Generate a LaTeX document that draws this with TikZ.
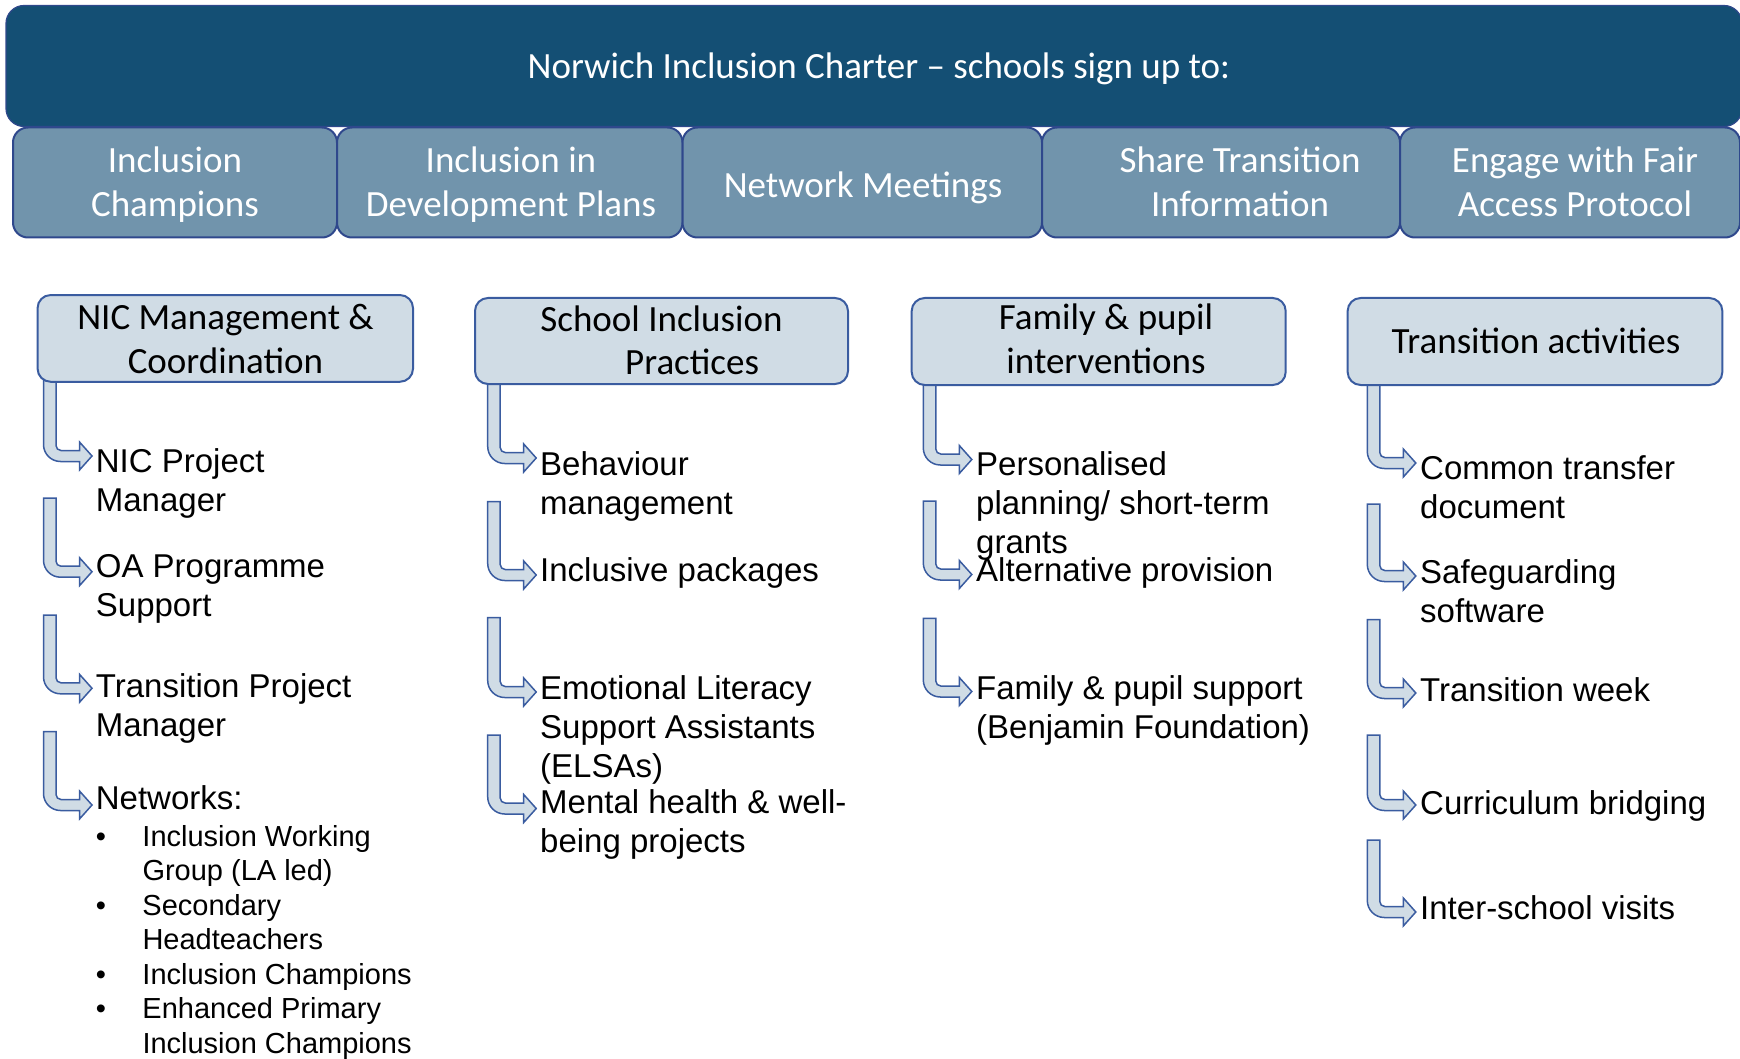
\documentclass[tikz,border=0pt]{standalone}
\usepackage{fontspec}
\setmainfont{Liberation Sans}
\newfontfamily\calfont{Carlito}

\definecolor{banner}{RGB}{20,79,116}
\definecolor{tabfill}{RGB}{113,148,172}
\definecolor{tabline}{RGB}{47,72,140}
\definecolor{headfill}{RGB}{208,220,229}
\definecolor{headline}{RGB}{58,92,160}

% stacked lines: left-aligned / centred, baseline at the first line
\newcommand\lstack[1]{\begin{tabular}[t]{@{}l@{}}#1\end{tabular}}
\newcommand\cstack[1]{\begin{tabular}[t]{@{}c@{}}#1\end{tabular}}

% bent block arrow: #1 = left edge of the stem, #2 = top of the stem, #3 = height of the tip
\newcommand\bentarrow[3]{%
  \path[arrowbody] (#1,#2) -- (#1,#3+5.5-17)
    .. controls (#1,#3+5.5-7.6) and (#1+7.6,#3+5.5) .. (#1+17,#3+5.5)
    -- (#1+36,#3+5.5) -- (#1+36,#3+14) -- (#1+48.5,#3) -- (#1+36,#3-14)
    -- (#1+36,#3-5.5) -- (#1+17.5,#3-5.5)
    .. controls (#1+14.7,#3-5.5) and (#1+12.5,#3-7.7) .. (#1+12.5,#3-10.5)
    -- (#1+12.5,#2) -- cycle;}

\begin{document}
\begin{tikzpicture}[x=1pt,y=-1pt,
  bannerbox/.style={draw=tabline, line width=1.2pt, fill=banner, rounded corners=18pt},
  tabbox/.style={draw=tabline, line width=2pt, fill=tabfill, rounded corners=15pt},
  headbox/.style={draw=headline, line width=2pt, fill=headfill, rounded corners=13pt},
  bigtext/.style={font=\calfont\fontsize{37}{44}\selectfont, inner sep=0pt, anchor=base},
  itemtext/.style={font=\fontsize{33}{39}\selectfont, inner sep=0pt, anchor=base west},
  bullettext/.style={font=\fontsize{29}{34.5}\selectfont, inner sep=0pt, anchor=base west},
  arrowbody/.style={draw=headline, line width=1.5pt, fill=headfill, line join=miter},
]
\useasboundingbox (0,0) rectangle (1740,1059);
\clip (0,0) rectangle (1740,1059);

% charter banner
\node[bannerbox, minimum width=1736pt, minimum height=121pt] (banner) at (874,66) {};
\node[bigtext, text=white] (title) at (879,79) {Norwich Inclusion Charter – schools sign up to:};

% commitments row
\node[tabbox, minimum width=324pt, minimum height=110pt] (c1) at (175,182.5) {};
\node[tabbox, minimum width=345.5pt, minimum height=110pt] (c2) at (509.75,182.5) {};
\node[tabbox, minimum width=359.5pt, minimum height=110pt] (c3) at (862.25,182.5) {};
\node[tabbox, minimum width=358pt, minimum height=110pt] (c4) at (1221,182.5) {};
\node[tabbox, minimum width=340pt, minimum height=110pt] (c5) at (1570,182.5) {};

\node[bigtext, text=white] (c1t) at (175,172.5) {\cstack{Inclusion\\Champions}};
\node[bigtext, text=white] (c2t) at (511,172.5) {\cstack{Inclusion in\\Development Plans}};
\node[bigtext, text=white] (c3t) at (863,197.5) {Network Meetings};
\node[bigtext, text=white] (c4t) at (1240,172.5) {\cstack{Share Transition\\Information}};
\node[bigtext, text=white] (c5t) at (1575,172.5) {\cstack{Engage with Fair\\Access Protocol}};

% block arrows (drawn before the headings so the heading border covers the stem top)
\bentarrow{43.5}{380}{456}
\bentarrow{43.5}{498}{571.7}
\bentarrow{43.5}{615}{688.3}
\bentarrow{43.5}{731.7}{805}

\bentarrow{487.7}{382}{458}
\bentarrow{487.7}{501.7}{575}
\bentarrow{487.7}{617.7}{692}
\bentarrow{487.7}{735}{808.5}

\bentarrow{923.3}{383}{459.5}
\bentarrow{923.3}{501}{574.5}
\bentarrow{923.3}{618.3}{691.5}

\bentarrow{1367.3}{383}{463}
\bentarrow{1367.3}{504}{576}
\bentarrow{1367.3}{619.5}{693}
\bentarrow{1367.3}{735}{805}
\bentarrow{1367.3}{840}{912}

% headings
\node[headbox, minimum width=375.4pt, minimum height=86.7pt] (h1) at (225.3,338.4) {};
\node[headbox, minimum width=373pt, minimum height=86pt] (h2) at (661.5,341) {};
\node[headbox, minimum width=374pt, minimum height=87pt] (h3) at (1098.7,341.5) {};
\node[headbox, minimum width=374.7pt, minimum height=87pt] (h4) at (1535,341.5) {};

\node[bigtext] (h1t) at (225.5,329.3) {\cstack{NIC Management \&\\Coordination}};
\node[bigtext] (h2a) at (661.5,331.7) {School Inclusion};
\node[bigtext, anchor=base west] (h2b) at (625,374.3) {Practices};
\node[bigtext] (h3t) at (1106,329.8) {\cstack{Family \& pupil\\interventions}};
\node[bigtext] (h4t) at (1536,353.5) {Transition activities};

% management & coordination
\node[itemtext] (i11) at (95.7,472.7) {\lstack{NIC Project\\Manager}};
\node[itemtext] (i12) at (95.7,577.5) {\lstack{OA Programme\\Support}};
\node[itemtext] (i13) at (95.7,697) {\lstack{Transition Project\\Manager}};
\node[itemtext] (i14) at (95.7,809.3) {Networks:};
\node[bullettext] (i14b) at (95.7,846) {\begin{tabular}[t]{@{}l@{}l@{}}
  \makebox[46.6pt][l]{\textbullet} & Inclusion Working\\
   & Group (LA led)\\
  \makebox[46.6pt][l]{\textbullet} & Secondary\\
   & Headteachers\\
  \makebox[46.6pt][l]{\textbullet} & Inclusion Champions\\
  \makebox[46.6pt][l]{\textbullet} & Enhanced Primary\\
   & Inclusion Champions
\end{tabular}};

% school inclusion practices
\node[itemtext] (i21) at (540,475.5) {\lstack{Behaviour\\management}};
\node[itemtext] (i22) at (540,581) {Inclusive packages};
\node[itemtext] (i23) at (540,699) {\lstack{Emotional Literacy\\Support Assistants\\(ELSAs)}};
\node[itemtext] (i24) at (540,813.5) {\lstack{Mental health \& well-\\being projects}};

% family & pupil interventions
\node[itemtext] (i31) at (976,475) {\lstack{Personalised\\planning/ short-term\\grants}};
\node[itemtext] (i32) at (976,581) {Alternative provision};
\node[itemtext] (i33) at (976,699) {\lstack{Family \& pupil support\\(Benjamin Foundation)}};

% transition activities
\node[itemtext] (i41) at (1420,479) {\lstack{Common transfer\\document}};
\node[itemtext] (i42) at (1420,583.5) {\lstack{Safeguarding\\software}};
\node[itemtext] (i43) at (1420,701) {Transition week};
\node[itemtext] (i44) at (1420,814.5) {Curriculum bridging};
\node[itemtext] (i45) at (1420,919) {Inter-school visits};
\end{tikzpicture}
\end{document}
